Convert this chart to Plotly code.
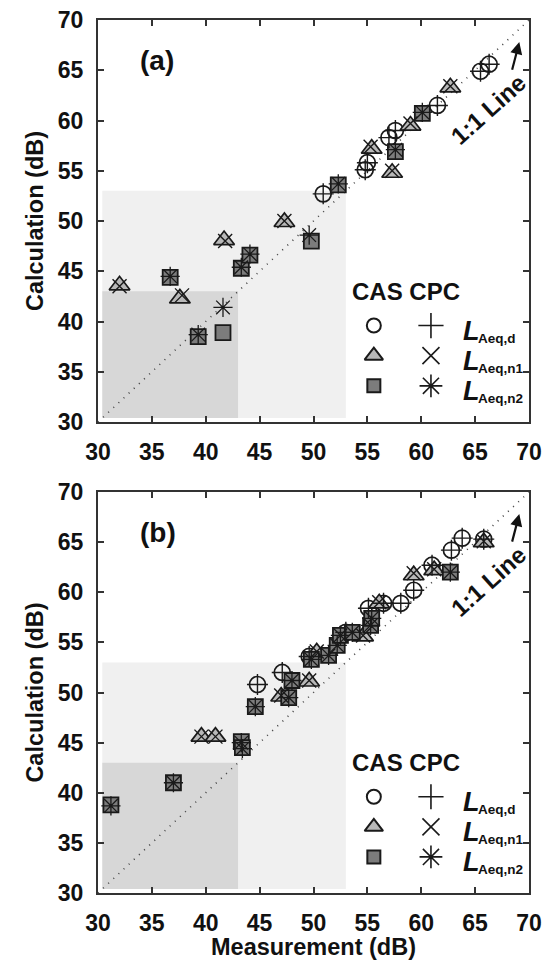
import plotly.graph_objects as go

# ---------------- data ----------------
# Panel (a)
A_CAS_D_X = [50.9, 54.8, 55.0, 57.0, 57.6, 61.5, 65.5, 66.3]
A_CAS_D_Y = [52.7, 55.1, 55.8, 58.3, 59.0, 61.5, 64.9, 65.6]
A_CPC_D_X = [50.9, 54.8, 55.0, 57.0, 57.6, 61.5, 65.5, 66.3]
A_CPC_D_Y = [52.7, 55.1, 55.8, 58.3, 59.0, 61.5, 64.9, 65.6]

A_CAS_N1_X = [32.0, 37.6, 41.7, 47.3, 55.4, 57.3, 59.0, 62.7]
A_CAS_N1_Y = [43.6, 42.3, 48.1, 49.9, 57.2, 54.8, 59.5, 63.3]
A_CPC_N1_X = [32.0, 37.8, 41.8, 47.3, 55.3, 57.3, 59.0, 62.7]
A_CPC_N1_Y = [43.5, 42.6, 48.0, 50.0, 57.4, 55.0, 59.7, 63.4]

A_CAS_N2_X = [36.7, 39.3, 41.6, 43.3, 44.1, 49.8, 52.3, 57.6, 60.1]
A_CAS_N2_Y = [44.4, 38.5, 38.9, 45.3, 46.6, 48.0, 53.6, 56.9, 60.7]
A_CPC_N2_X = [36.7, 39.3, 41.6, 43.3, 44.1, 49.6, 52.3, 57.6, 60.1]
A_CPC_N2_Y = [44.5, 38.7, 41.4, 45.4, 46.7, 48.6, 53.7, 57.1, 60.8]

# Panel (b)
B_CAS_D_X = [44.8, 47.1, 49.6, 53.0, 55.1, 56.5, 58.1, 59.3, 61.0, 62.8, 63.8, 65.8]
B_CAS_D_Y = [50.8, 52.0, 53.6, 56.0, 58.4, 58.9, 58.9, 60.2, 62.7, 64.2, 65.4, 65.3]
B_CPC_D_X = [44.8, 47.1, 49.6, 53.0, 55.1, 56.5, 58.1, 59.3, 61.0, 62.8, 63.8, 65.8]
B_CPC_D_Y = [50.8, 52.0, 53.6, 56.0, 58.4, 58.9, 58.9, 60.2, 62.7, 64.2, 65.4, 65.3]

B_CAS_N1_X = [39.6, 40.9, 47.0, 49.6, 50.3, 54.6, 56.1, 59.3, 61.2, 65.8]
B_CAS_N1_Y = [45.6, 45.6, 49.6, 51.1, 54.0, 55.6, 58.9, 61.7, 62.2, 65.0]
B_CPC_N1_X = [39.6, 40.9, 47.0, 49.6, 50.3, 54.6, 56.1, 59.3, 61.2, 65.8]
B_CPC_N1_Y = [45.6, 45.6, 49.7, 51.2, 54.1, 55.7, 59.0, 61.9, 62.3, 65.1]

B_CAS_N2_X = [31.2, 37.0, 43.3, 43.4, 44.6, 47.7, 48.0, 49.8, 51.4, 52.2, 52.5, 53.6, 55.3, 55.4, 62.7]
B_CAS_N2_Y = [38.8, 41.0, 45.1, 44.5, 48.6, 49.5, 51.2, 53.3, 53.7, 54.7, 55.7, 56.0, 56.7, 57.4, 62.0]
B_CPC_N2_X = [31.2, 37.0, 43.3, 43.4, 44.6, 47.7, 48.0, 49.8, 51.4, 52.2, 52.5, 53.6, 55.3, 55.4, 62.7]
B_CPC_N2_Y = [38.7, 41.0, 45.0, 44.4, 48.6, 49.5, 51.2, 53.3, 53.7, 54.7, 55.7, 56.0, 56.7, 57.4, 62.0]

AXIS_RANGE = [30, 70]
TICKS = [30, 35, 40, 45, 50, 55, 60, 65, 70]
SHADE_LIGHT = 53
SHADE_DARK = 43
PANEL_LABELS = ["(a)", "(b)"]
LEGEND_ROWS = ["Aeq,d", "Aeq,n1", "Aeq,n2"]

# ---------------- style ----------------
FONT = "Liberation Sans"
INK = "#1a1a1a"
TRI_FILL = "#b8b8b8"
SQ_FILL = "#7c7c7c"

fig = go.Figure()

panels = [
    dict(xa="x", ya="y",
         d=(A_CAS_D_X, A_CAS_D_Y, A_CPC_D_X, A_CPC_D_Y),
         n1=(A_CAS_N1_X, A_CAS_N1_Y, A_CPC_N1_X, A_CPC_N1_Y),
         n2=(A_CAS_N2_X, A_CAS_N2_Y, A_CPC_N2_X, A_CPC_N2_Y)),
    dict(xa="x2", ya="y2",
         d=(B_CAS_D_X, B_CAS_D_Y, B_CPC_D_X, B_CPC_D_Y),
         n1=(B_CAS_N1_X, B_CAS_N1_Y, B_CPC_N1_X, B_CPC_N1_Y),
         n2=(B_CAS_N2_X, B_CAS_N2_Y, B_CPC_N2_X, B_CPC_N2_Y)),
]

cas_style = {
    "d": dict(symbol="circle", size=16, color="rgba(255,255,255,0)", line=dict(color=INK, width=1.7)),
    "n1": dict(symbol="triangle-up", size=18, color=TRI_FILL, line=dict(color=INK, width=1.7)),
    "n2": dict(symbol="square", size=15, color=SQ_FILL, line=dict(color=INK, width=1.8)),
}
cpc_style = {
    "d": dict(symbol="cross-thin", size=15, color=INK, line=dict(color=INK, width=1.4)),
    "n1": dict(symbol="x-thin", size=14, color=INK, line=dict(color=INK, width=1.4)),
    "n2": dict(symbol="asterisk", size=16, color=INK, line=dict(color=INK, width=1.3)),
}

# Legend layout (in data units of each panel)
LEG_CAS_X = 55.6
LEG_CPC_X = 60.9
LEG_TEXT_X = 63.7
LEG_ROW_Y = [39.6, 36.6, 33.6]
LEG_HEAD_Y = 43.0

for i, p in enumerate(panels):
    xa, ya = p["xa"], p["ya"]
    xr = "x" if i == 0 else "x2"
    yr = "y" if i == 0 else "y2"
    # shaded regions
    fig.add_shape(type="rect", xref=xr, yref=yr, x0=30.4, y0=30.4, x1=SHADE_LIGHT, y1=SHADE_LIGHT,
                  fillcolor="#f0f0f0", line=dict(width=0), layer="below")
    fig.add_shape(type="rect", xref=xr, yref=yr, x0=30.4, y0=30.4, x1=SHADE_DARK, y1=SHADE_DARK,
                  fillcolor="#d7d7d7", line=dict(width=0), layer="below")
    # 1:1 line
    fig.add_trace(go.Scatter(x=AXIS_RANGE, y=AXIS_RANGE, mode="lines", xaxis=xa, yaxis=ya,
                             line=dict(color="#444444", width=1.6, dash="1px,6px"),
                             showlegend=False, hoverinfo="skip"))
    # CAS markers
    for k in ["d", "n1", "n2"]:
        cx, cy, _, _ = p[k]
        fig.add_trace(go.Scatter(x=cx, y=cy, mode="markers", xaxis=xa, yaxis=ya,
                                 marker=cas_style[k], showlegend=False))
    # CPC markers
    for k in ["d", "n1", "n2"]:
        _, _, px, py = p[k]
        fig.add_trace(go.Scatter(x=px, y=py, mode="markers", xaxis=xa, yaxis=ya,
                                 marker=cpc_style[k], showlegend=False))
    # legend glyphs
    for j, k in enumerate(["d", "n1", "n2"]):
        fig.add_trace(go.Scatter(x=[LEG_CAS_X], y=[LEG_ROW_Y[j]], mode="markers", xaxis=xa, yaxis=ya,
                                 marker=dict(cas_style[k], size=cas_style[k]["size"] - 2,
                                             line=dict(color=INK, width=2)),
                                 showlegend=False, hoverinfo="skip"))
        fig.add_trace(go.Scatter(x=[LEG_CPC_X], y=[LEG_ROW_Y[j]], mode="markers", xaxis=xa, yaxis=ya,
                                 marker=dict(cpc_style[k], size=cpc_style[k]["size"] + 3,
                                             line=dict(color=INK, width=1.6)),
                                 showlegend=False, hoverinfo="skip"))
        fig.add_annotation(x=LEG_TEXT_X, y=LEG_ROW_Y[j], xref=xr, yref=yr, xanchor="left", yanchor="middle",
                           text="<b><i>L</i></b>", showarrow=False, yshift=-5,
                           font=dict(family=FONT, size=27, color="#111111"))
        fig.add_annotation(x=LEG_TEXT_X, y=LEG_ROW_Y[j], xref=xr, yref=yr, xanchor="left", yanchor="middle",
                           text="<b>" + LEGEND_ROWS[j] + "</b>", showarrow=False, xshift=15, yshift=-13,
                           font=dict(family=FONT, size=13.5, color="#111111"))
    fig.add_annotation(x=(LEG_CAS_X + LEG_CPC_X) / 2 + 0.3, y=LEG_HEAD_Y, xref=xr, yref=yr,
                       text="<b>CAS CPC</b>", showarrow=False,
                       font=dict(family=FONT, size=24, color="#111111"))
    # panel label
    fig.add_annotation(x=0.093, y=0.943, xref=xr + " domain", yref=yr + " domain",
                       text="<b>" + PANEL_LABELS[i] + "</b>", showarrow=False,
                       font=dict(family=FONT, size=28, color="#111111"))
    # 1:1 Line text + arrow
    fig.add_annotation(x=66.2, y=61.1, xref=xr, yref=yr, text="<b>1:1 Line</b>", showarrow=False,
                       textangle=-42, font=dict(family=FONT, size=24, color="#111111"))
    fig.add_annotation(x=69.1, y=67.8, ax=68.4, ay=64.9, xref=xr, yref=yr, axref=xr, ayref=yr,
                       text="", showarrow=True, arrowhead=2, arrowsize=1.1, arrowwidth=2.2,
                       arrowcolor="#111111")

axis_common = dict(range=AXIS_RANGE, tickvals=TICKS, ticks="inside", ticklen=6, tickwidth=1.5,
                   tickcolor="#333333", showline=True, linecolor="#333333", linewidth=2,
                   mirror="ticks", showgrid=False, zeroline=False, automargin=False,
                   tickfont=dict(family=FONT, size=23, color="#111111", weight="bold"),
                   ticklabelstandoff=8)

fig.update_layout(
    width=543, height=960,
    margin=dict(l=98, r=14, t=20, b=67),
    paper_bgcolor="white", plot_bgcolor="white",
    xaxis=dict(axis_common, domain=[0, 1], anchor="y"),
    yaxis=dict(axis_common, domain=[0.5395, 1], anchor="x",
               title=dict(text="<b>Calculation (dB)</b>", standoff=8,
                          font=dict(family=FONT, size=23.5, color="#111111"))),
    xaxis2=dict(axis_common, domain=[0, 1], anchor="y2",
                title=dict(text="<b>Measurement (dB)</b>", standoff=5,
                           font=dict(family=FONT, size=23.5, color="#111111"))),
    yaxis2=dict(axis_common, domain=[0, 0.4593], anchor="x2",
                title=dict(text="<b>Calculation (dB)</b>", standoff=8,
                           font=dict(family=FONT, size=23.5, color="#111111"))),
    showlegend=False,
)

fig.write_html("out.html")
